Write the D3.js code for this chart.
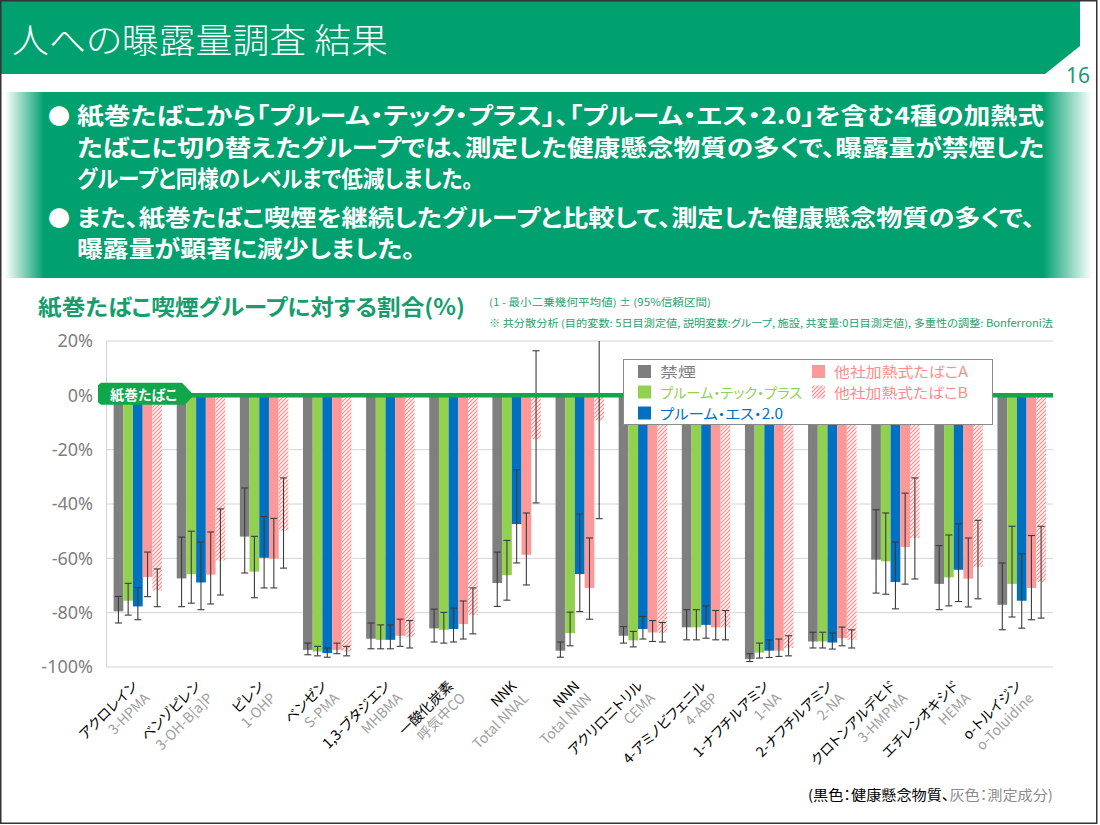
<!DOCTYPE html>
<html><head><meta charset="utf-8">
<script src="https://cdn.jsdelivr.net/npm/d3@7"></script>
<style>
body{margin:0;background:#fff;}
svg{display:block;font-family:"Noto Sans CJK JP","Noto Sans",sans-serif;}
.jp{font-feature-settings:"palt";}
</style></head><body>
<svg id="c" width="1100" height="825"></svg>
<script>
// ---------------- data ----------------
const categories = ["アクロレイン","ベンゾピレン","ピレン","ベンゼン","1,3-ブタジエン","一酸化炭素","NNK","NNN","アクリロニトリル","4-アミノビフェニル","1-ナフチルアミン","2-ナフチルアミン","クロトンアルデヒド","エチレンオキシド","o-トルイジン"];
const codes = ["3-HPMA","3-OH-B[a]P","1-OHP","S-PMA","MHBMA","呼気中CO","Total NNAL","Total NNN","CEMA","4-ABP","1-NA","2-NA","3-HMPMA","HEMA","o-Toluidine"];
const seriesNames = ["禁煙","プルーム・テック・プラス","プルーム・エス・2.0","他社加熱式たばこA","他社加熱式たばこB"];
const yTicks = [20,0,-20,-40,-60,-80,-100];

// mean, upper CI, lower CI (%)
const kinen      = [-79.5,-67.4,-52.0,-93.7,-89.6,-85.8,-69.1,-94.0,-88.5,-85.4,-97.1,-90.6,-60.5,-69.4,-77.1];
const kinenHi    = [-74.0,-52.2,-34.1,-91.2,-83.8,-78.7,-57.7,-90.8,-85.1,-78.9,-95.1,-87.2,-42.1,-55.3,-61.7];
const kinenLo    = [-83.8,-77.8,-65.4,-95.5,-93.3,-90.8,-77.7,-96.4,-91.2,-90.0,-98.0,-93.0,-72.8,-78.9,-86.3];
const ptp        = [-75.6,-65.8,-64.9,-94.3,-90.0,-86.3,-66.2,-87.5,-90.2,-85.4,-94.7,-90.6,-61.1,-67.0,-69.4];
const ptpHi      = [-69.2,-50.0,-51.9,-92.4,-84.5,-79.9,-53.4,-79.8,-86.9,-78.9,-91.2,-87.2,-43.3,-51.4,-48.2];
const ptpLo      = [-80.9,-76.5,-74.5,-95.9,-93.3,-91.2,-75.4,-92.2,-92.6,-90.0,-96.7,-93.0,-73.2,-77.5,-81.6];
const ps2        = [-77.7,-68.9,-59.8,-94.9,-90.0,-86.0,-47.4,-65.8,-86.0,-84.5,-94.0,-91.0,-68.7,-64.2,-75.6];
const ps2Hi      = [-70.8,-54.0,-44.6,-93.0,-84.5,-78.3,-27.4,-43.7,-81.4,-77.5,-90.0,-87.5,-54.0,-47.3,-58.3];
const ps2Lo      = [-82.6,-78.9,-70.9,-96.4,-93.3,-90.8,-61.7,-79.6,-89.7,-89.4,-96.5,-93.4,-78.6,-75.9,-85.7];
const otherA     = [-66.9,-66.0,-60.1,-93.7,-88.5,-84.2,-58.7,-70.9,-87.3,-85.4,-94.0,-89.4,-55.8,-67.5,-70.9];
const otherAHi   = [-57.7,-50.3,-45.3,-91.2,-82.4,-75.7,-43.3,-52.5,-82.9,-79.2,-89.7,-85.3,-36.0,-52.5,-51.6];
const otherALo   = [-74.1,-76.8,-70.9,-95.1,-92.4,-89.7,-69.8,-82.4,-90.6,-90.0,-96.1,-92.2,-69.5,-77.9,-82.6];
const otherB     = [-71.9,-60.8,-49.8,-94.3,-88.9,-80.8,-16.1,-9.2,-87.5,-85.4,-93.0,-90.0,-52.5,-63.2,-68.7];
const otherBHi   = [-63.9,-41.8,-30.4,-92.4,-82.9,-70.9,16.4,30.0,-83.6,-79.2,-88.5,-86.3,-30.4,-46.0,-48.2];
const otherBLo   = [-77.8,-73.5,-63.6,-95.9,-93.0,-87.8,-39.6,-45.4,-90.8,-90.0,-95.9,-93.0,-67.6,-74.9,-82.0];

const seriesVals = [kinen, ptp, ps2, otherA, otherB];
const seriesHi = [kinenHi, ptpHi, ps2Hi, otherAHi, otherBHi];
const seriesLo = [kinenLo, ptpLo, ps2Lo, otherALo, otherBLo];

// ---------------- styles ----------------
const GREEN = "#00a06f";
const barColors = ["#7f7f7f","#92d050","#0070c0","#ff9999","url(#hatch)"];
const legendText = ["#7f7f7f","#92d050","#0070c0","#ff8c8c","#ff8c8c"];

const svg = d3.select("#c");
const defs = svg.append("defs");

const pat = defs.append("pattern").attr("id","hatch").attr("patternUnits","userSpaceOnUse")
  .attr("width",4).attr("height",4);
pat.append("rect").attr("width",4).attr("height",4).attr("fill","#fff4f4");
pat.append("path").attr("d","M-1,1 l2,-2 M0,4 l4,-4 M3,5 l2,-2")
  .attr("stroke","#ff8a8a").attr("stroke-width",1.1);

const gBox = defs.append("linearGradient").attr("id","boxgrad").attr("x1","0").attr("x2","1").attr("y1","0").attr("y2","0");
gBox.append("stop").attr("offset","0").attr("stop-color",GREEN).attr("stop-opacity",0);
gBox.append("stop").attr("offset","0.036").attr("stop-color",GREEN).attr("stop-opacity",1);
gBox.append("stop").attr("offset","0.955").attr("stop-color",GREEN).attr("stop-opacity",1);
gBox.append("stop").attr("offset","1").attr("stop-color",GREEN).attr("stop-opacity",0);

// ---------------- header ----------------
svg.append("path").attr("d","M1,1 H1080 V46 L1045,74 H1 Z").attr("fill",GREEN);
svg.append("text").attr("class","jp").attr("x",12).attr("y",53).attr("fill","#fff")
  .attr("font-size",34).attr("font-weight",300).attr("textLength",376).attr("lengthAdjust","spacingAndGlyphs")
  .text("人への曝露量調査 結果");
svg.append("text").attr("x",1066).attr("y",83).attr("fill","#1b9a78").attr("font-family","Noto Sans")
  .attr("font-size",21).text("16");

// ---------------- bullet box ----------------
svg.append("rect").attr("x",5).attr("y",92).attr("width",1087).attr("height",186).attr("fill","url(#boxgrad)");
const bullets = [
  {t:"紙巻たばこから「プルーム・テック・プラス」、「プルーム・エス・2.0」を含む4種の加熱式", y:124, len:967, dot:true},
  {t:"たばこに切り替えたグループでは、測定した健康懸念物質の多くで、曝露量が禁煙した", y:156, len:967},
  {t:"グループと同様のレベルまで低減しました。", y:187, len:396},
  {t:"また、紙巻たばこ喫煙を継続したグループと比較して、測定した健康懸念物質の多くで、", y:226, len:958, dot:true},
  {t:"曝露量が顕著に減少しました。", y:257, len:338}
];
bullets.forEach(b=>{
  if(b.dot) svg.append("text").attr("x",48).attr("y",b.y).attr("fill","#fff").attr("font-size",22).text("●");
  svg.append("text").attr("class","jp").attr("x",77).attr("y",b.y).attr("fill","#fff")
    .attr("font-size",23).attr("font-weight",700)
    .attr("textLength",b.len).attr("lengthAdjust","spacingAndGlyphs").text(b.t);
});

// ---------------- chart title / notes ----------------
svg.append("text").attr("class","jp").attr("x",38).attr("y",315).attr("fill","#179c6c")
  .attr("font-size",22).attr("font-weight",700).attr("textLength",427).attr("lengthAdjust","spacingAndGlyphs")
  .text("紙巻たばこ喫煙グループに対する割合(%)");
svg.append("text").attr("class","jp").attr("x",489).attr("y",306).attr("fill","#2a9f6a")
  .attr("font-size",10).attr("textLength",222).attr("lengthAdjust","spacingAndGlyphs")
  .text("(1 - 最小二乗幾何平均値) ± (95%信頼区間)");
svg.append("text").attr("class","jp").attr("x",489).attr("y",327).attr("fill","#2a9f6a")
  .attr("font-size",10).attr("textLength",564).attr("lengthAdjust","spacingAndGlyphs")
  .text("※ 共分散分析 (目的変数: 5日目測定値, 説明変数:グループ, 施設, 共変量:0日目測定値), 多重性の調整: Bonferroni法");

// ---------------- scales ----------------
const x0 = d3.scaleBand().domain(categories).range([106,1053]).padding(0);
const x1 = d3.scaleBand().domain(d3.range(5)).range([7.6, 56.1]).padding(0);
const y = d3.scaleLinear().domain([-100,20]).range([667,341]);

// grid
const grid = svg.append("g");
grid.selectAll("line").data(yTicks).join("line")
  .attr("x1",106).attr("x2",1053).attr("y1",d=>y(d)).attr("y2",d=>y(d))
  .attr("stroke","#d4d4d4").attr("stroke-width",1);
grid.append("line").attr("x1",106.5).attr("x2",106.5).attr("y1",y(20)).attr("y2",y(-100)).attr("stroke","#d4d4d4");

// y axis labels via d3 axis
const yAxis = svg.append("g").attr("transform","translate(93,0)")
  .call(d3.axisLeft(y).tickValues(yTicks).tickSize(0).tickPadding(0).tickFormat(d=>d+"%"));
yAxis.select(".domain").remove();
yAxis.selectAll("text").attr("font-family","Noto Sans").attr("font-size",18).attr("fill","#808080");

// clip
defs.append("clipPath").attr("id","plotclip").append("rect")
  .attr("x",100).attr("y",y(20)).attr("width",960).attr("height",y(-100)-y(20)+20);

// bars
const flat = [];
categories.forEach((c,i)=>{ for(let s=0;s<5;s++) flat.push({c,i,s,v:seriesVals[s][i],hi:seriesHi[s][i],lo:seriesLo[s][i]}); });
const plot = svg.append("g").attr("clip-path","url(#plotclip)");
plot.selectAll("rect.bar").data(flat).join("rect").attr("class","bar")
  .attr("x",d=>x0(d.c)+x1(d.s)).attr("width",x1.bandwidth())
  .attr("y",y(0)).attr("height",d=>y(d.v)-y(0)).attr("fill",d=>barColors[d.s]);

// error bars
const eb = plot.append("g").attr("stroke","#3c3c3c").attr("stroke-width",1.1);
flat.forEach(d=>{
  const cx = x0(d.c)+x1(d.s)+x1.bandwidth()/2;
  eb.append("line").attr("x1",cx).attr("x2",cx).attr("y1",y(d.hi)).attr("y2",y(d.lo));
  [d.hi,d.lo].forEach(v=>{ if(v<=20) eb.append("line").attr("x1",cx-3.5).attr("x2",cx+3.5).attr("y1",y(v)).attr("y2",y(v)); });
});

// zero line + tag
const LGREEN = "#10a64a";
svg.append("line").attr("x1",106).attr("x2",1053).attr("y1",y(0)).attr("y2",y(0))
  .attr("stroke",LGREEN).attr("stroke-width",4.5);
svg.append("path").attr("d",`M98,${y(0)-10} L101,${y(0)-12.5} H182 L192,${y(0)-2} V${y(0)+2} L185,${y(0)+9.5} H101 L98,${y(0)+7} Z`)
  .attr("fill",LGREEN);
svg.append("text").attr("class","jp").attr("x",110).attr("y",y(0)+4.5).attr("fill","#fff")
  .attr("font-size",14).attr("font-weight",700).text("紙巻たばこ");

// x labels
const xl = svg.append("g");
categories.forEach((c,i)=>{
  const cx = x0(c)+x0.bandwidth()/2;
  const g = xl.append("text").attr("class","jp").attr("transform",`translate(${cx+1},687) rotate(-45)`)
    .attr("text-anchor","end").attr("font-size",14);
  g.append("tspan").attr("x",0).attr("dy",0).attr("fill","#000").text(c);
  g.append("tspan").attr("x",0).attr("dy",17).attr("fill","#a0a0a0").text(codes[i]);
});

// legend
const lg = svg.append("g");
lg.append("rect").attr("x",623.5).attr("y",359.5).attr("width",369).attr("height",65)
  .attr("fill","#fff").attr("stroke","#8a8a8a").attr("stroke-width",1);
const legPos = [
  {x:638,y:371.5,len:null},{x:638,y:392,len:142},{x:638,y:413,len:123},
  {x:812,y:371.5,len:134},{x:812,y:392,len:134}
];
seriesNames.forEach((n,s)=>{
  const p = legPos[s];
  lg.append("rect").attr("x",p.x).attr("y",p.y-6.5).attr("width",13).attr("height",13).attr("fill",barColors[s]);
  const t = lg.append("text").attr("class","jp").attr("x",p.x+22).attr("y",p.y+5.5).attr("font-size",14)
    .attr("fill",legendText[s]).text(n);
  if(p.len) t.attr("textLength",p.len).attr("lengthAdjust","spacingAndGlyphs");
  else t.attr("textLength",36).attr("lengthAdjust","spacingAndGlyphs");
});

// footer
const ft = svg.append("text").attr("class","jp").attr("x",808).attr("y",800).attr("font-size",14)
  .attr("textLength",245).attr("lengthAdjust","spacingAndGlyphs");
ft.append("tspan").attr("fill","#000").text("(黒色：健康懸念物質、");
ft.append("tspan").attr("fill","#8c8c8c").text("灰色：測定成分)");

// slide border
svg.append("rect").attr("x",0.75).attr("y",0.75).attr("width",1096).attr("height",822.5)
  .attr("fill","none").attr("stroke","#333").attr("stroke-width",1.5);
</script>
</body></html>
